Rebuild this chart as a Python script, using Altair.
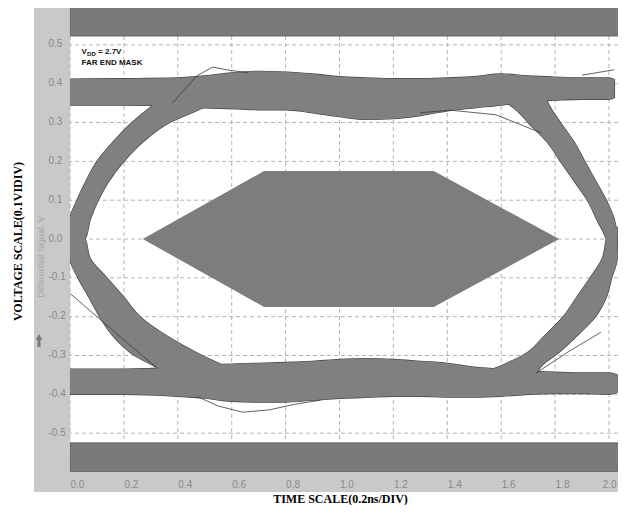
import altair as alt
import pandas as pd

# ---------------- data ----------------
x_ticks = [0.0, 0.2, 0.4, 0.6, 0.8, 1.0, 1.2, 1.4, 1.6, 1.8, 2.0]
y_ticks = [-0.5, -0.4, -0.3, -0.2, -0.1, 0.0, 0.1, 0.2, 0.3, 0.4, 0.5]

# forbidden zones of the far-end mask
mask_top_band = [0.523, 0.6]
mask_bot_band = [-0.6, -0.525]
mask_x_span = [0.0, 2.2]
hex_x = [0.27, 0.72, 1.35, 1.815]
hex_top = [0.0, 0.175, 0.175, 0.0]
hex_bot = [0.0, -0.175, -0.175, 0.0]

# "1" level band (upper rail)
top_x = [0.0, 0.2, 0.4, 0.5, 0.6, 0.7, 0.8, 0.9, 1.0, 1.1, 1.2, 1.3, 1.4, 1.5, 1.6, 1.7, 1.8, 1.9, 2.0, 2.02]
top_hi = [0.412, 0.413, 0.415, 0.42, 0.428, 0.432, 0.43, 0.425, 0.418, 0.415, 0.413, 0.413, 0.415, 0.418, 0.425, 0.42, 0.417, 0.415, 0.415, 0.41]
top_lo = [0.345, 0.345, 0.342, 0.338, 0.336, 0.333, 0.333, 0.325, 0.315, 0.308, 0.31, 0.318, 0.33, 0.338, 0.345, 0.355, 0.358, 0.36, 0.36, 0.365]
# "0" level band (lower rail)
bot_x = [0.0, 0.2, 0.4, 0.5, 0.6, 0.7, 0.8, 0.9, 1.0, 1.1, 1.2, 1.3, 1.4, 1.5, 1.6, 1.7, 1.8, 1.9, 2.0, 2.03]
bot_hi = [-0.335, -0.335, -0.33, -0.325, -0.322, -0.32, -0.318, -0.315, -0.31, -0.308, -0.31, -0.315, -0.32, -0.33, -0.335, -0.34, -0.343, -0.345, -0.345, -0.35]
bot_lo = [-0.4, -0.4, -0.405, -0.41, -0.418, -0.42, -0.42, -0.415, -0.41, -0.408, -0.405, -0.405, -0.407, -0.407, -0.405, -0.4, -0.398, -0.398, -0.4, -0.395]

# transition edges (x range for each voltage level)
rise_l_y = [-0.03, 0.0, 0.05, 0.1, 0.15, 0.2, 0.25, 0.3, 0.34, 0.37]
rise_l_x1 = [0.0, 0.0, 0.0, 0.026, 0.06, 0.1, 0.16, 0.23, 0.3, 0.36]
rise_l_x2 = [0.0, 0.056, 0.075, 0.105, 0.145, 0.2, 0.27, 0.37, 0.5, 0.58]

fall_l_y = [-0.36, -0.33, -0.3, -0.25, -0.2, -0.15, -0.1, -0.05, 0.0, 0.03]
fall_l_x1 = [0.4, 0.32, 0.24, 0.16, 0.11, 0.07, 0.03, 0.0, 0.0, 0.0]
fall_l_x2 = [0.65, 0.58, 0.49, 0.36, 0.26, 0.2, 0.137, 0.075, 0.056, 0.0]

fall_r_y = [-0.03, 0.0, 0.05, 0.1, 0.15, 0.2, 0.25, 0.3, 0.33, 0.37]
fall_r_x1 = [2.0, 1.99, 1.955, 1.92, 1.87, 1.82, 1.77, 1.7, 1.66, 1.58]
fall_r_x2 = [2.03, 2.03, 2.02, 1.99, 1.95, 1.91, 1.87, 1.82, 1.79, 1.76]

rise_r_y = [-0.36, -0.32, -0.3, -0.25, -0.2, -0.15, -0.1, -0.05, 0.0, 0.03]
rise_r_x1 = [1.48, 1.62, 1.68, 1.76, 1.83, 1.88, 1.93, 1.975, 1.99, 2.0]
rise_r_x2 = [1.72, 1.76, 1.8, 1.88, 1.95, 1.99, 2.01, 2.03, 2.03, 2.03]

# a few stray traces visible outside the bands
trace_a_x = [0.38, 0.47, 0.53, 0.58, 0.66]
trace_a_y = [0.35, 0.42, 0.443, 0.436, 0.428]
trace_b_x = [0.0, 0.1, 0.2, 0.32]
trace_b_y = [-0.14, -0.2, -0.26, -0.33]
trace_c_x = [0.47, 0.55, 0.64, 0.74, 0.83, 0.93]
trace_c_y = [-0.405, -0.43, -0.446, -0.44, -0.426, -0.415]
trace_d_x = [1.73, 1.85, 1.97]
trace_d_y = [-0.345, -0.29, -0.24]
trace_e_x = [1.9, 2.02]
trace_e_y = [0.422, 0.436]
trace_g_x = [1.3, 1.41, 1.58, 1.75]
trace_g_y = [0.325, 0.332, 0.32, 0.273]

ann_x = 0.043
ann_y1 = 0.482
ann_y2 = 0.454

# ---------------- layout ----------------
PX_PER_UNIT_X = 269.5
W, H = 548, 464
XDOM = [0.0, W / PX_PER_UNIT_X]
YDOM = [-0.6, 0.595]

xs = alt.Scale(domain=XDOM, nice=False, zero=False)
ys = alt.Scale(domain=YDOM, nice=False, zero=False)

BAND = "#808080"
MASK = "#7a7a7a"
FRAME = "#c9c9c9"
LABEL = "#8a8a8a"

one = pd.DataFrame({"k": [0]})

# frame + white plot region
frame = alt.Chart(one).mark_rect(color=FRAME).encode(
    x=alt.value(-36), x2=alt.value(W + 30), y=alt.value(0), y2=alt.value(H + 20)
)
plotbg = alt.Chart(one).mark_rect(color="white").encode(
    x=alt.value(0), x2=alt.value(W + 30), y=alt.value(0), y2=alt.value(H)
)

vgrid = alt.Chart(pd.DataFrame({"x": x_ticks})).mark_rule(
    color="#b4b4b4", strokeDash=[4, 3], strokeWidth=1
).encode(x=alt.X("x:Q", scale=xs))
hgrid = alt.Chart(pd.DataFrame({"y": y_ticks})).mark_rule(
    color="#b4b4b4", strokeDash=[4, 3], strokeWidth=1
).encode(y=alt.Y("y:Q", scale=ys))

mask_df = pd.DataFrame({
    "x1": [mask_x_span[0]] * 2, "x2": [mask_x_span[1]] * 2,
    "y1": [mask_top_band[0], mask_bot_band[0]], "y2": [mask_top_band[1], mask_bot_band[1]],
})
masks = alt.Chart(mask_df).mark_rect(color=MASK, clip=True, stroke="#606060", strokeWidth=1).encode(
    x=alt.X("x1:Q", scale=xs), x2="x2:Q",
    y=alt.Y("y1:Q", scale=ys), y2="y2:Q",
)

hex_df = pd.DataFrame({"x": hex_x, "t": hex_top, "b": hex_bot})
hexagon = alt.Chart(hex_df).mark_area(color="#7d7d7d", interpolate="linear").encode(
    x=alt.X("x:Q", scale=xs), y=alt.Y("t:Q", scale=ys), y2="b:Q"
)

rails = pd.concat([
    pd.DataFrame({"band": "top", "x": top_x, "hi": top_hi, "lo": top_lo}),
    pd.DataFrame({"band": "bot", "x": bot_x, "hi": bot_hi, "lo": bot_lo}),
])
edges = pd.concat([
    pd.DataFrame({"edge": "rl", "y": rise_l_y, "x1": rise_l_x1, "x2": rise_l_x2}),
    pd.DataFrame({"edge": "fl", "y": fall_l_y, "x1": fall_l_x1, "x2": fall_l_x2}),
    pd.DataFrame({"edge": "fr", "y": fall_r_y, "x1": fall_r_x1, "x2": fall_r_x2}),
    pd.DataFrame({"edge": "rr", "y": rise_r_y, "x1": rise_r_x1, "x2": rise_r_x2}),
])


def rail_layer(**style):
    return alt.Chart(rails).mark_area(interpolate="monotone", clip=True, **style).encode(
        x=alt.X("x:Q", scale=xs), y=alt.Y("hi:Q", scale=ys), y2="lo:Q", detail="band:N"
    )


def edge_layer(**style):
    return alt.Chart(edges).mark_area(orient="horizontal", interpolate="monotone", clip=True, **style).encode(
        y=alt.Y("y:Q", scale=ys), x=alt.X("x1:Q", scale=xs), x2="x2:Q", detail="edge:N"
    )


# outline pass (dark stroke), then fill pass covering the inner halves of the strokes
rail_out = rail_layer(color=BAND, stroke="#454545", strokeWidth=1.3)
edge_out = edge_layer(color=BAND, stroke="#454545", strokeWidth=1.3)
rail_fill = rail_layer(color=BAND)
edge_fill = edge_layer(color=BAND)

traces = pd.concat([
    pd.DataFrame({"t": n, "x": xx, "y": yy, "o": list(range(len(xx)))})
    for n, xx, yy in [
        ("a", trace_a_x, trace_a_y), ("b", trace_b_x, trace_b_y),
        ("c", trace_c_x, trace_c_y), ("d", trace_d_x, trace_d_y),
        ("e", trace_e_x, trace_e_y), ("g", trace_g_x, trace_g_y),
    ]
])
trace_marks = alt.Chart(traces).mark_line(color="#3a3a3a", strokeWidth=0.8, clip=True).encode(
    x=alt.X("x:Q", scale=xs), y=alt.Y("y:Q", scale=ys), detail="t:N", order="o:Q"
)

ann = pd.DataFrame({"x": [ann_x], "y1": [ann_y1], "y2": [ann_y2]})
tbase = alt.Chart(ann)
t_v = tbase.mark_text(text="V", font="Liberation Sans", fontWeight="bold", fontSize=8,
                      align="left", baseline="middle", color="#111111").encode(
    x=alt.X("x:Q", scale=xs), y=alt.Y("y1:Q", scale=ys))
t_dd = tbase.mark_text(text="DD", font="Liberation Sans", fontWeight="bold", fontSize=6,
                       align="left", baseline="middle", dx=5.5, dy=2.5, color="#111111").encode(
    x=alt.X("x:Q", scale=xs), y=alt.Y("y1:Q", scale=ys))
t_eq = tbase.mark_text(text="= 2.7V", font="Liberation Sans", fontWeight="bold", fontSize=8,
                       align="left", baseline="middle", dx=16.5, color="#111111").encode(
    x=alt.X("x:Q", scale=xs), y=alt.Y("y1:Q", scale=ys))
t_far = tbase.mark_text(text="FAR END MASK", font="Liberation Sans", fontWeight="bold", fontSize=8,
                        align="left", baseline="middle", color="#111111").encode(
    x=alt.X("x:Q", scale=xs), y=alt.Y("y2:Q", scale=ys))

diff_label = alt.Chart(one).mark_text(
    text="Differential Signal, V", angle=270, font="Liberation Sans", fontSize=9,
    color="#a6a6a6", align="center", baseline="middle"
).encode(x=alt.value(-29), y=alt.value(249))
arrow_head = alt.Chart(one).mark_point(
    shape="triangle-up", filled=True, color="#7a7a7a", size=45, opacity=1
).encode(x=alt.value(-31), y=alt.value(329))
arrow_stem = alt.Chart(one).mark_rule(color="#7a7a7a", strokeWidth=3).encode(
    x=alt.value(-31), y=alt.value(331), y2=alt.value(339)
)

# axes carried by an invisible layer
axis_layer = alt.Chart(pd.DataFrame({"x": [XDOM[0]], "y": [0.0]})).mark_point(opacity=0).encode(
    x=alt.X("x:Q", scale=xs, axis=alt.Axis(
        values=x_ticks, labelExpr="format(datum.value, '.1f')",
        grid=False, ticks=False, tickSize=0, domain=False, zindex=1,
        labelAlign={"expr": "datum.value > 1.9 ? 'center' : 'left'"},
        labelBaseline="top", labelPadding=7,
        labelFont="Liberation Sans", labelFontSize=10, labelColor=LABEL,
        labelFlush=False, labelOverlap=False,
        title="TIME SCALE(0.2ns/DIV)", titleFont="Liberation Serif", titleFontWeight="bold",
        titleFontSize=12, titleColor="#000000", titleX=270, titleY=26,
        titleAlign="center", titleBaseline="middle",
    )),
    y=alt.Y("y:Q", scale=ys, axis=alt.Axis(
        values=y_ticks,
        labelExpr="(datum.value < -0.001 ? '-' : '') + format(abs(datum.value), '.1f')",
        grid=False, ticks=False, tickSize=0, domain=False, zindex=1,
        labelAlign="left", labelBaseline="middle", labelPadding=22, labelOffset=-1,
        labelFont="Liberation Sans", labelFontSize=10, labelColor=LABEL,
        labelFlush=False, labelOverlap=False,
        title="VOLTAGE SCALE(0.1VIDIV)", titleFont="Liberation Serif", titleFontWeight="bold",
        titleFontSize=12, titleColor="#000000", titleX=-53, titleY=233, titleAngle=270,
        titleAlign="center", titleBaseline="middle",
    )),
)

chart = alt.layer(
    frame, plotbg, vgrid, hgrid, masks, hexagon,
    rail_out, edge_out, rail_fill, edge_fill, trace_marks,
    t_v, t_dd, t_eq, t_far, diff_label, arrow_stem, arrow_head, axis_layer,
).properties(
    width=W, height=H,
    autosize=alt.AutoSizeParams(type="none"),
    padding={"left": 62, "top": 0, "right": 0, "bottom": 33},
).configure_view(stroke=None, fill=None).configure(background="white")

chart.save("out.html", embed_options={"renderer": "svg", "actions": False})
